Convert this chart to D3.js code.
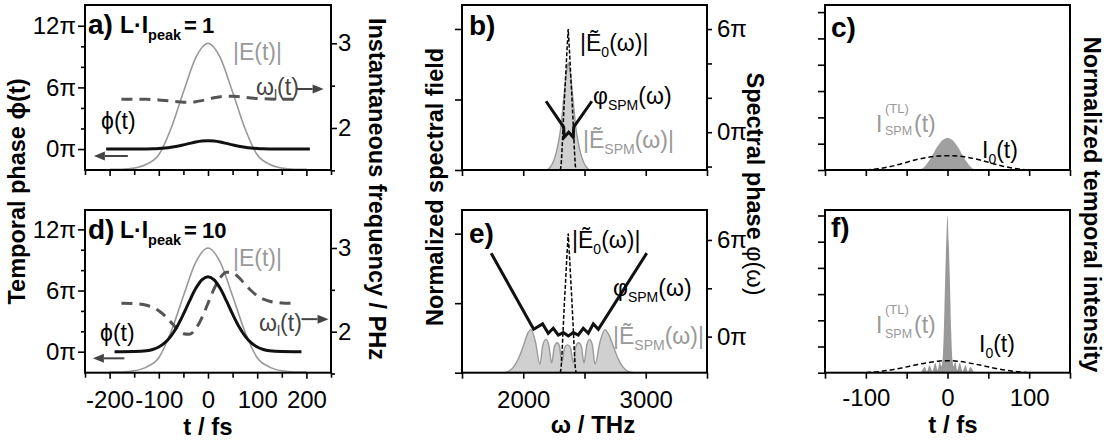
<!DOCTYPE html>
<html><head><meta charset="utf-8">
<script src="https://cdn.jsdelivr.net/npm/d3@7"></script>
<style>body{margin:0;background:#fff} svg{display:block}</style>
</head><body><svg id="c" width="1109" height="444"></svg>
<script>
// ---------------- data ----------------
// panels a/d : time domain
const tField = [-200,-175,-150,-125,-100,-75,-50,-25,0,25,50,75,100,125,150,175,200];
const fieldAmp = [0.005,0.006,0.015,0.045,0.12,0.33,0.615,0.885,1,0.885,0.615,0.33,0.12,0.045,0.015,0.006,0.005];
const tPhiA = [-207,-175,-150,-125,-112.5,-100,-87.5,-75,-62.5,-50,-37.5,-25,-12.5,0,12.5,25,37.5,50,62.5,75,87.5,100,112.5,125,150,175,207];
const phiA = [0,0,0.002,0.011,0.024,0.051,0.097,0.17,0.274,0.405,0.548,0.681,0.776,0.81,0.776,0.681,0.548,0.405,0.274,0.17,0.097,0.051,0.024,0.011,0.002,0,0];
const tPhiD = [-190,-175,-150,-125,-112.5,-100,-87.5,-75,-62.5,-50,-37.5,-25,-12.5,0,12.5,25,37.5,50,62.5,75,87.5,100,112.5,125,150,175,190];
const phiD = [0,0.002,0.014,0.096,0.22,0.46,0.88,1.55,2.49,3.68,4.98,6.19,7.05,7.36,7.05,6.19,4.98,3.68,2.49,1.55,0.88,0.46,0.22,0.096,0.014,0.002,0];
const tOmega = [-176,-150,-125,-112.5,-100,-87.5,-75,-62.5,-50,-37.5,-25,-12.5,0,12.5,25,37.5,50,62.5,75,87.5,100,112.5,125,150,176];
const omegaA = [2.34,2.34,2.338,2.335,2.331,2.325,2.318,2.31,2.305,2.305,2.311,2.323,2.34,2.357,2.369,2.375,2.375,2.37,2.362,2.355,2.349,2.345,2.342,2.34,2.34];
const omegaD = [2.34,2.336,2.316,2.291,2.25,2.188,2.111,2.033,1.976,1.97,2.034,2.166,2.34,2.514,2.646,2.71,2.704,2.648,2.569,2.492,2.43,2.389,2.364,2.344,2.34];
// panels b/e : spectral domain
const wE0 = [2302,2309,2317,2327,2337,2347,2357,2367,2377,2387,2397,2407,2417,2425,2432];
const specE0 = [0,0.03,0.15,0.34,0.52,0.68,0.85,1,0.85,0.68,0.52,0.34,0.15,0.03,0];
const wSpmB = [2193,2218,2243,2268,2288,2308,2323,2338,2348,2358,2368,2378,2388,2398,2413,2428,2448,2468,2493,2518,2543];
const specSpmB = [0,0.018,0.055,0.12,0.2,0.31,0.44,0.57,0.66,0.72,0.76,0.72,0.66,0.57,0.44,0.31,0.2,0.12,0.055,0.018,0];
const wPhiB = [2186,2330,2334,2371,2408,2412,2560];
const phiSpmB = [1.8,0.3,-0.3,0.0,-0.3,0.3,1.8];
const wSpmE = [1840,1880,1920,1960,2000,2030,2063,2100,2136,2160,2185,2208,2232,2255,2278,2296,2314,2338,2362,2385,2409,2430,2452,2474,2496,2519,2542,2564,2586,2626,2667,2700,2735,2775,2815,2855,2900];
const specSpmE = [0,0.01,0.04,0.1,0.19,0.27,0.31,0.22,0.06,0.2,0.24,0.2,0.07,0.19,0.215,0.19,0.07,0.18,0.2,0.18,0.07,0.19,0.215,0.19,0.07,0.2,0.24,0.2,0.06,0.22,0.31,0.27,0.19,0.1,0.04,0.01,0];
const wPhiE = [1738,2085,2158,2204,2245,2286,2327,2368,2409,2449,2490,2531,2572,2613,3008];
const phiSpmE = [5.18,0.46,0.79,0.21,0.52,0.1,0.25,0.04,0.25,0.1,0.52,0.21,0.79,0.46,5.18];
// panels c/f : temporal intensity
const tI0 = [-100,-85,-70,-55,-40,-25,-12,0,12,25,40,55,70,85,100];
const i0C = [0,0.05,0.13,0.25,0.38,0.48,0.53,0.54,0.53,0.48,0.38,0.25,0.13,0.05,0];
const i0F = [0,0.04,0.1,0.19,0.29,0.38,0.44,0.46,0.44,0.38,0.29,0.19,0.1,0.04,0];
const tTlC = [-40,-33,-29,-25,-21,-17,-13,-9,-5,0,5,9,13,17,21,25,29,33,40];
const iTlC = [0,0.02,0.1,0.25,0.43,0.64,0.86,1.04,1.16,1.22,1.16,1.04,0.86,0.64,0.43,0.25,0.1,0.02,0];
const tTlF = [-40,-33,-28,-25,-22,-18.5,-15,-12,-9.5,-7.5,-6,-4.5,-3,-1.5,0,1.5,3,4.5,6,7.5,9.5,12,15,18.5,22,25,28,33,40];
const iTlF = [0,0.02,0.22,0.05,0.28,0.06,0.37,0.1,0.42,0.25,0.5,1.6,3.4,5.0,6.0,5.0,3.4,1.6,0.5,0.25,0.42,0.1,0.37,0.06,0.28,0.05,0.22,0.02,0];
// tick labels
const tTicks = [-200,-100,0,100,200];
const phaseTicks = [0,6,12];
const freqTicks = [2,3];
const wTicks = [2000,3000];
const specPhaseTicks = [0,6];
const tTicksCF = [-100,0,100];

// ---------------- drawing ----------------
const F = '"Liberation Sans", Arial, Helvetica, sans-serif';
const svg = d3.select("#c");
const GRAY = "#999", DARK = "#444";
const TICKFS = 24;

function path(xs, ys, xS, yS, curve) {
  return d3.line().x((d,i)=>xS(xs[i])).y((d,i)=>yS(ys[i])).curve(curve||d3.curveMonotoneX)(xs);
}
function area(xs, ys, xS, yS, y0, curve) {
  return d3.area().x((d,i)=>xS(xs[i])).y0(y0).y1((d,i)=>yS(ys[i])).curve(curve||d3.curveMonotoneX)(xs);
}
function frame(x0,x1,y0,y1){
  svg.append("rect").attr("x",x0).attr("y",y0).attr("width",x1-x0).attr("height",y1-y0)
    .attr("fill","none").attr("stroke","#000").attr("stroke-width",2);
}
function ax(gen, scale, tr, vals, size, fmt, pad) {
  const g = svg.append("g").attr("transform", tr)
    .call(gen(scale).tickValues(vals).tickSize(size).tickPadding(pad==null?3:pad).tickFormat(fmt||""));
  g.select(".domain").remove();
  g.selectAll("line").attr("stroke","#000").attr("stroke-width",1.6);
  g.selectAll("text").attr("font-family",F).attr("font-size",TICKFS).attr("fill","#000");
  return g;
}
function rich(x,y,parts,opt) {
  opt = opt||{};
  const t = svg.append("text").attr("x",x).attr("y",y).attr("font-family",F)
    .attr("fill",opt.fill||"#000").attr("font-weight",opt.weight||"normal").attr("font-size",opt.size||22);
  let cur = 0;
  parts.forEach(p=>{
    const s = t.append("tspan").text(p[0]);
    const off = p[1]||0;
    if (p[3]!=null) { s.attr("x",p[3]); s.attr("y", y+off); }
    else if (off-cur) s.attr("dy", off-cur);
    cur = off;
    if (p[2]) s.attr("font-size",p[2]);
    if (p[4]) s.attr("font-weight",p[4]);
  });
  return t;
}
function arrow(x1,y1,x2,y2,color){
  const dx=x2-x1, dy=y2-y1, L=Math.hypot(dx,dy), ux=dx/L, uy=dy/L;
  const hl=11, hw=4.5;
  const bx=x2-ux*hl, by=y2-uy*hl;
  svg.append("line").attr("x1",x1).attr("y1",y1).attr("x2",bx).attr("y2",by).attr("stroke",color).attr("stroke-width",2);
  svg.append("path").attr("d",`M${x2},${y2}L${bx-uy*hw},${by+ux*hw}L${bx+uy*hw},${by-ux*hw}Z`).attr("fill",color);
}
function vtitle(x,y,rot,parts){
  const t = svg.append("text").attr("transform",`translate(${x},${y}) rotate(${rot})`)
    .attr("text-anchor","middle").attr("dominant-baseline","central")
    .attr("font-family",F).attr("font-weight","bold").attr("font-size",23.5);
  parts.forEach(p=>{ const s=t.append("tspan").text(p[0]); if(p[1]) s.attr("font-weight",p[1]); });
}

// ===== panels a / d =====
function timePanel(y0, y1, phDom, frDom, tPh, ph, om, isBottom) {
  const xS = d3.scaleLinear().domain([-250,250]).range([85,331]);
  const yPh = d3.scaleLinear().domain(phDom).range([y1,y0]);
  const yFr = d3.scaleLinear().domain(frDom).range([y1,y0]);
  const yE = d3.scaleLinear().domain([0,1]).range([y1, yFr(3)]);
  svg.append("path").attr("d",path(tField,fieldAmp,xS,yE)).attr("fill","none").attr("stroke",GRAY).attr("stroke-width",1.6);
  svg.append("path").attr("d",path(tOmega,om,xS,yFr)).attr("fill","none").attr("stroke","#555").attr("stroke-width",3).attr("stroke-dasharray","11,7");
  svg.append("path").attr("d",path(tPh,ph,xS,yPh)).attr("fill","none").attr("stroke","#111").attr("stroke-width",3);
  frame(85,331,y0,y1);
  ax(d3.axisLeft, yPh, "translate(85,0)", [2,4,8,10], 4);
  ax(d3.axisLeft, yPh, "translate(85,0)", phaseTicks, 7, d=>d+"π", 2);
  ax(d3.axisRight, yFr, "translate(331,0)", [1.5,2.5], 4);
  ax(d3.axisRight, yFr, "translate(331,0)", freqTicks, 6, d=>d, 1);
  ax(d3.axisBottom, xS, `translate(0,${y1})`, [-250,-150,-50,50,150,250], 5);
  ax(d3.axisBottom, xS, `translate(0,${y1})`, tTicks, 6, isBottom? (d=>d) : null, 12);
  return {xS,yPh,yFr};
}
const A = timePanel(5,170,[-2.04,14.02],[1.504,3.452],tPhiA,phiA,omegaA,false);
const D = timePanel(210,372.7,[-2.06,13.9],[1.51,3.454],tPhiD,phiD,omegaD,true);

// texts a
rich(88,34,[["a)"]],{weight:"bold",size:28});
rich(120,33,[["L·I"],["peak",7,14.5],["=",0,22,184],["1",0,22,202]],{weight:"bold",size:23});
rich(233,60,[["|E(t)|"]],{fill:GRAY,size:23});
rich(101,129,[["ϕ(t)"]],{size:23});
rich(256,95,[["ω"],["l",5,14],["(t)",0]],{fill:DARK,size:23});
arrow(A.xS(-163),A.yPh(-0.68),A.xS(-232),A.yPh(-0.68),DARK);
arrow(A.xS(180),A.yFr(2.46),A.xS(235),A.yFr(2.46),DARK);
// texts d
rich(88,239,[["d)"]],{weight:"bold",size:28});
rich(120,238,[["L·I"],["peak",7,14.5],["=",0,22,184],["10",0,22,202]],{weight:"bold",size:23});
rich(233,266,[["|E(t)|"]],{fill:GRAY,size:23});
rich(100,341,[["ϕ(t)"]],{size:23});
rich(259,331,[["ω"],["l",5,14],["(t)",0]],{fill:DARK,size:23});
arrow(D.xS(-170),D.yPh(-0.65),D.xS(-234),D.yPh(-0.65),DARK);
arrow(D.xS(190),D.yFr(2.15),D.xS(245),D.yFr(2.15),DARK);
rich(208,435,[["t / fs"]],{weight:"bold",size:24}).attr("text-anchor","middle");

// ===== panels b / e =====
function specPanel(y0,y1,phDom,phTicks,phMinor,spmW,spm,phW,ph,isBottom){
  const xS = d3.scaleLinear().domain([1500,3500]).range([462,707]);
  const yA = d3.scaleLinear().domain([0,1.17]).range([y1,y0]);
  const yP = d3.scaleLinear().domain(phDom).range([y1,y0]);
  svg.append("path").attr("d",area(spmW,spm,xS,yA,y1)).attr("fill","#d0d0d0");
  svg.append("path").attr("d",path(spmW,spm,xS,yA)).attr("fill","none").attr("stroke",GRAY).attr("stroke-width",1.4);
  svg.append("path").attr("d",path(wE0,specE0,xS,yA,d3.curveLinear)).attr("fill","none").attr("stroke","#000").attr("stroke-width",1.5).attr("stroke-dasharray","4,2");
  svg.append("path").attr("d",path(phW,ph,xS,yP,d3.curveLinear)).attr("fill","none").attr("stroke","#111").attr("stroke-width",3).attr("stroke-linejoin","miter");
  frame(462,707,y0,y1);
  ax(d3.axisLeft, yA, "translate(462,0)", [0,0.5,1], 7);
  ax(d3.axisRight, yP, "translate(707,0)", phMinor, 5);
  ax(d3.axisRight, yP, "translate(707,0)", phTicks, 5, d=>d+"π", 5);
  ax(d3.axisBottom, xS, `translate(0,${y1})`, [1500,2500,3500], 6);
  ax(d3.axisBottom, xS, `translate(0,${y1})`, wTicks, 6, isBottom?(d=>d):null, 12);
  return {xS,yA,yP};
}
const B = specPanel(5,170,[-2.2,7.4],specPhaseTicks,[-2,2,4],wSpmB,specSpmB,wPhiB,phiSpmB,false);
const E = specPanel(210,372.7,[-2.24,7.86],specPhaseTicks,[3],wSpmE,specSpmE,wPhiE,phiSpmE,true);

rich(469,35,[["b)"]],{weight:"bold",size:28});
rich(580,51,[["|Ẽ"],["0",6,14],["(ω)|",0]],{size:23});
rich(593,104,[["φ"],["SPM",6,14],["(ω)",0]],{size:23});
rich(583,148,[["|Ẽ"],["SPM",6,14],["(ω)|",0]],{fill:GRAY,size:23});
rich(469,243,[["e)"]],{weight:"bold",size:28});
rich(572,248,[["|Ẽ"],["0",6,14],["(ω)|",0]],{size:23});
rich(613,296,[["φ"],["SPM",6,14],["(ω)",0]],{size:23});
rich(613,344,[["|Ẽ"],["SPM",6,14],["(ω)|",0]],{fill:GRAY,size:23});
rich(593,433,[["ω / THz"]],{weight:"bold",size:24}).attr("text-anchor","middle");

// ===== panels c / f =====
function intPanel(y0,y1,yTop,tl_t,tl,i0,fill,isBottom){
  const xS = d3.scaleLinear().domain([-150,150]).range([825,1070]);
  const yS = d3.scaleLinear().domain([0,yTop]).range([y1,y0]);
  svg.append("path").attr("d",area(tl_t,tl,xS,yS,y1)).attr("fill",fill);
  svg.append("path").attr("d",path(tI0,i0,xS,yS)).attr("fill","none").attr("stroke","#000").attr("stroke-width",1.5).attr("stroke-dasharray","5,3");
  frame(825,1070,y0,y1);
  ax(d3.axisLeft, yS, "translate(825,0)", [0,1,2,3,4,5,6], 7);
  ax(d3.axisBottom, xS, `translate(0,${y1})`, [-150,-50,50,150], 6);
  ax(d3.axisBottom, xS, `translate(0,${y1})`, tTicksCF, 6, isBottom?(d=>d):null, 10);
  return {xS,yS};
}
intPanel(5,170,6.27,tTlC,iTlC,i0C,"#a0a0a0",false);
intPanel(210,372.7,6.21,tTlF,iTlF,i0F,"#999",true);

rich(831,37,[["c)"]],{weight:"bold",size:28});
rich(876,132,[["I"],["(TL)",-19,13,885],["SPM",3,12.5,885],["(t)",0,null,914]],{fill:GRAY,size:23});
rich(982,158,[["I"],["0",6,14],["(t)",0]],{size:23});
rich(831,237,[["f)"]],{weight:"bold",size:28});
rich(876,333,[["I"],["(TL)",-19,13,885],["SPM",5,12.5,885],["(t)",0,null,914]],{fill:GRAY,size:23});
rich(979,352,[["I"],["0",6,14],["(t)",0]],{size:23});
rich(953,433,[["t / fs"]],{weight:"bold",size:24}).attr("text-anchor","middle");

// ===== vertical titles =====
vtitle(17,191.5,-90,[["Temporal phase "],["ϕ(t)"]]);
vtitle(377,189,90,[["Instantaneous frequency / PHz"]]);
vtitle(435,187,-90,[["Normalized spectral field"]]);
vtitle(755,184,90,[["Spectral phase "],["φ(ω)","normal"]]);
vtitle(1092,204.5,90,[["Normalized temporal intensity"]]);
</script></body></html>
